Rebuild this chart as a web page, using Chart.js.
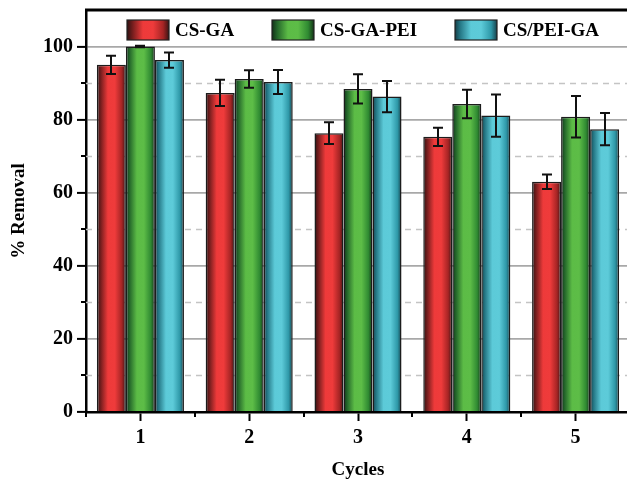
<!DOCTYPE html>
<html>
<head>
<meta charset="utf-8">
<script src="https://cdn.jsdelivr.net/npm/chart.js@4.4.1/dist/chart.umd.min.js"></script>
<style>
  html, body { margin: 0; padding: 0; background: #fff; overflow: hidden; }
  #wrap { width: 632px; height: 484px; position: relative; }
</style>
</head>
<body>
<div id="wrap"><canvas id="c"></canvas></div>
<script>
// data
const cycles = ['1', '2', '3', '4', '5'];
const seriesNames = ['CS-GA', 'CS-GA-PEI', 'CS/PEI-GA'];
const csGa = [95.0, 87.3, 76.3, 75.3, 63.0];
const csGaPei = [100.0, 91.1, 88.4, 84.3, 80.8];
const csPeiGa = [96.3, 90.3, 86.3, 81.1, 77.4];
const csGaErr = [2.5, 3.6, 3.0, 2.5, 2.0];
const csGaPeiErr = [0.2, 2.4, 4.0, 3.9, 5.7];
const csPeiGaErr = [2.1, 3.3, 4.3, 5.8, 4.4];

const FONT = "'Liberation Serif', 'Times New Roman', serif";

// cylinder-like shading, dark edges and bright middle
const shades = [
  [[0, '#2e1212'], [0.12, '#6e1c1c'], [0.38, '#ee3a3a'], [0.62, '#ef3b3b'], [0.86, '#a52424'], [1, '#3a1414']],
  [[0, '#123018'], [0.12, '#23652a'], [0.38, '#5cbc46'], [0.62, '#5dbd47'], [0.86, '#2f8a32'], [1, '#143418']],
  [[0, '#163f48'], [0.12, '#247684'], [0.38, '#5ccad8'], [0.62, '#5dcbd9'], [0.86, '#2e98a8'], [1, '#17424c']],
];
const baseColors = ['#ee3a3a', '#5cbc46', '#5ccad8'];

function barGradient(ctx, x0, x1, stops) {
  const g = ctx.createLinearGradient(x0, 0, x1, 0);
  stops.forEach(([p, c]) => g.addColorStop(p, c));
  return g;
}

const shadePlugin = {
  id: 'shade',
  beforeDatasetsDraw(chart) {
    chart.data.datasets.forEach((ds, i) => {
      chart.getDatasetMeta(i).data.forEach(bar => {
        bar.options.backgroundColor = barGradient(chart.ctx, bar.x - bar.width / 2, bar.x + bar.width / 2, shades[i]);
      });
    });
  },
};

// dashed minor grid + minor ticks
const minorPlugin = {
  id: 'minor',
  beforeDatasetsDraw(chart) {
    const {ctx, chartArea: a, scales: {x, y}} = chart;
    ctx.save();
    ctx.strokeStyle = '#c4c4c4';
    ctx.lineWidth = 1.3;
    ctx.setLineDash([6, 5]);
    for (let v = 10; v < 110; v += 20) {
      const py = Math.round(y.getPixelForValue(v)) + 0.5;
      ctx.beginPath();
      ctx.moveTo(a.left, py);
      ctx.lineTo(a.right, py);
      ctx.stroke();
    }
    ctx.setLineDash([]);
    ctx.strokeStyle = '#000';
    ctx.lineWidth = 2;
    for (let v = 10; v < 110; v += 20) {
      const py = Math.round(y.getPixelForValue(v));
      ctx.beginPath();
      ctx.moveTo(a.left - 5, py);
      ctx.lineTo(a.left, py);
      ctx.stroke();
    }
    for (let i = 0; i <= cycles.length; i++) {
      const px = Math.round(x.getPixelForValue(i - 0.5));
      ctx.beginPath();
      ctx.moveTo(px, a.bottom);
      ctx.lineTo(px, a.bottom + 5);
      ctx.stroke();
    }
    ctx.restore();
  },
};

const errorBarPlugin = {
  id: 'errorBars',
  afterDatasetsDraw(chart) {
    const {ctx, scales: {y}} = chart;
    ctx.save();
    ctx.strokeStyle = '#111';
    ctx.lineWidth = 2;
    chart.data.datasets.forEach((ds, i) => {
      chart.getDatasetMeta(i).data.forEach((bar, j) => {
        const v = ds.data[j];
        const e = ds.errors[j];
        const yt = y.getPixelForValue(v + e);
        const yb = y.getPixelForValue(v - e);
        const cx = Math.round(bar.x);
        ctx.beginPath();
        ctx.moveTo(cx, yt);
        ctx.lineTo(cx, yb);
        ctx.moveTo(cx - 5, yt);
        ctx.lineTo(cx + 5, yt);
        ctx.moveTo(cx - 5, yb);
        ctx.lineTo(cx + 5, yb);
        ctx.stroke();
      });
    });
    ctx.restore();
  },
};

const framePlugin = {
  id: 'frame',
  afterDraw(chart) {
    const {ctx, chartArea: a} = chart;
    ctx.save();
    ctx.strokeStyle = '#000';
    ctx.lineWidth = 3;
    ctx.beginPath();
    ctx.moveTo(a.left - 1, a.top);
    ctx.lineTo(a.right, a.top);
    ctx.lineTo(a.right, a.bottom);
    ctx.stroke();

    // legend inside the plot
    const swX = [127, 272, 455];
    ctx.font = `bold 19px ${FONT}`;
    ctx.textBaseline = 'middle';
    seriesNames.forEach((name, i) => {
      const x0 = swX[i];
      ctx.fillStyle = barGradient(ctx, x0, x0 + 42, shades[i]);
      ctx.fillRect(x0, 20, 42, 20);
      ctx.strokeStyle = '#222';
      ctx.lineWidth = 1.2;
      ctx.strokeRect(x0, 20, 42, 20);
      ctx.fillStyle = '#000';
      ctx.fillText(name, x0 + 48, 31);
    });
    ctx.restore();
  },
};

const seriesData = [csGa, csGaPei, csPeiGa];
const seriesErr = [csGaErr, csGaPeiErr, csPeiGaErr];

new Chart(document.getElementById('c'), {
  type: 'bar',
  data: {
    labels: cycles,
    datasets: seriesNames.map((name, i) => ({
      label: name,
      data: seriesData[i],
      errors: seriesErr[i],
      backgroundColor: () => baseColors[i],
      borderColor: '#1c1c1c',
      borderWidth: 1.5,
      categoryPercentage: 0.8,
      barPercentage: 1.0,
    })),
  },
  options: {
    responsive: true,
    maintainAspectRatio: false,
    animation: false,
    layout: { padding: { top: 10, right: 2, left: 0, bottom: 0 } },
    plugins: {
      legend: { display: false },
      tooltip: { enabled: false },
    },
    scales: {
      x: {
        grid: { offset: false, drawOnChartArea: false, tickLength: 9, tickWidth: 2, tickColor: '#000' },
        border: { color: '#000', width: 2.5 },
        ticks: { color: '#000', padding: 5, maxRotation: 0, font: { family: FONT, size: 20, weight: 'bold' } },
        title: {
          display: true, text: 'Cycles', color: '#000',
          font: { family: FONT, size: 19, weight: 'bold' },
          padding: { top: 0, bottom: 3 },
        },
        afterFit: s => { s.height = 72; },
      },
      y: {
        min: 0,
        max: 110,
        ticks: {
          stepSize: 10,
          autoSkip: false,
          color: '#000',
          padding: 4,
          font: { family: FONT, size: 20, weight: 'bold' },
          callback: v => (v % 20 === 0 ? v : ''),
        },
        grid: {
          color: c => (c.tick && c.tick.value % 20 === 0 ? '#a8a8a8' : 'rgba(0,0,0,0)'),
          lineWidth: 1.8,
          tickColor: c => (c.tick && c.tick.value % 20 === 0 ? '#000' : 'rgba(0,0,0,0)'),
          tickLength: 9,
          tickWidth: 2,
        },
        border: { color: '#000', width: 2.5 },
        title: {
          display: true, text: '% Removal', color: '#000',
          font: { family: FONT, size: 19, weight: 'bold' },
          padding: { top: 8, bottom: 0 },
        },
        afterFit: s => {
          s.width = 86;
          s.paddingTop = 0;
          s.paddingBottom = 0;
        },
      },
    },
  },
  plugins: [shadePlugin, minorPlugin, errorBarPlugin, framePlugin],
});
</script>
</body>
</html>
